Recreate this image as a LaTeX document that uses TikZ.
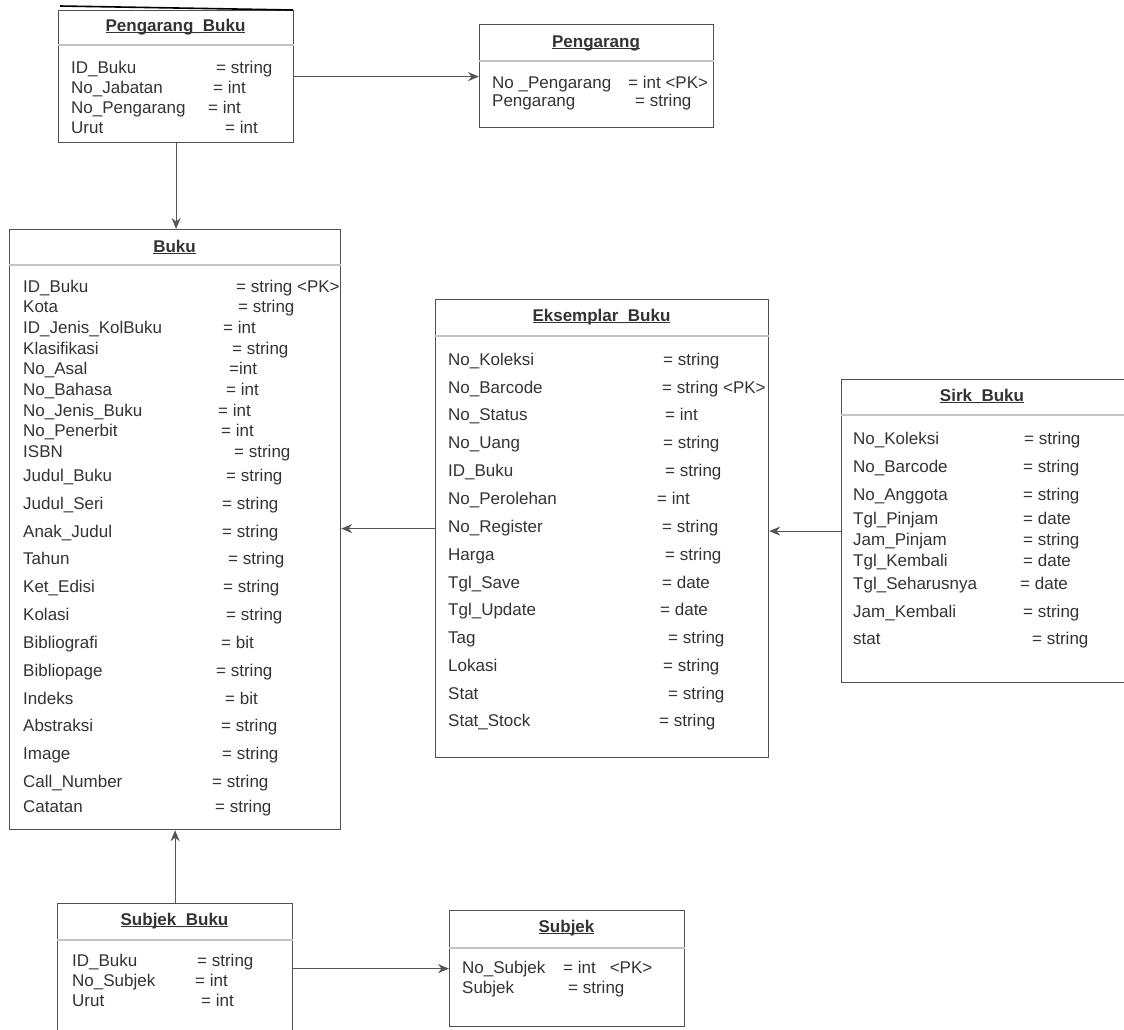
\documentclass[tikz,border=0pt]{standalone}
\usepackage{fontspec}
\setmainfont{Liberation Sans}
\usetikzlibrary{arrows.meta}

\definecolor{boxline}{HTML}{505050}
\definecolor{sepline}{HTML}{C4C4C4}
\definecolor{ink}{HTML}{333333}
\definecolor{linkline}{HTML}{555555}

% underlined entity title
\newcommand\entitle[1]{\setbox0\hbox{#1}\rlap{\rule[-2pt]{\wd0}{1pt}}\box0}

\tikzset{
  ent/.style={draw=boxline, line width=1.2pt, fill=white, rectangle, inner sep=0pt, anchor=north west},
  sepr/.style={draw=sepline, line width=1.1pt},
  txt/.style={anchor=base west, inner sep=0pt, text=ink, font=\fontsize{17}{20}\selectfont},
  ttl/.style={anchor=base, inner sep=0pt, text=ink, font=\fontsize{17}{20}\selectfont\bfseries},
  link/.style={draw=linkline, line width=1.2pt, -{Stealth[length=11pt,width=9pt]}}
}

\begin{document}
\begin{tikzpicture}[x=1pt,y=-1pt]
\useasboundingbox (0,0) rectangle (1124,1029);
\fill[white] (0,0) rectangle (1124,1029);

% ---------- entity boxes ----------
\node[ent, minimum width=235pt, minimum height=132pt] (pb) at (58,10) {};
\node[ent, minimum width=234pt, minimum height=103pt] (pg) at (479,24) {};
\node[ent, minimum width=331pt, minimum height=600pt] (bk) at (9,229) {};
\node[ent, minimum width=333pt, minimum height=458pt] (ek) at (435,299) {};
\node[ent, minimum width=300pt, minimum height=303pt] (sk) at (841,379) {};
\node[ent, minimum width=235pt, minimum height=130pt] (sb) at (57,903) {};
\node[ent, minimum width=235pt, minimum height=116pt] (sj) at (449,910) {};

% heavy rule over Pengarang_Buku
\draw[black, line width=1.6pt] (60,6) -- (293,10);

% header separators
\draw[sepr] (pb.west |- 0,45) -- (pb.east |- 0,45);
\draw[sepr] (pg.west |- 0,61) -- (pg.east |- 0,61);
\draw[sepr] (bk.west |- 0,265) -- (bk.east |- 0,265);
\draw[sepr] (ek.west |- 0,336) -- (ek.east |- 0,336);
\draw[sepr] (sk.west |- 0,415) -- (sk.east |- 0,415);
\draw[sepr] (sb.west |- 0,940) -- (sb.east |- 0,940);
\draw[sepr] (sj.west |- 0,948) -- (sj.east |- 0,948);

% ---------- titles ----------
\node[ttl] (pb-t) at (175.5,31) {\entitle{Pengarang\_Buku}};
\node[ttl] (pg-t) at (596,47) {\entitle{Pengarang}};
\node[ttl] (bk-t) at (174.5,252) {\entitle{Buku}};
\node[ttl] (ek-t) at (601.5,321) {\entitle{Eksemplar\_Buku}};
\node[ttl] (sk-t) at (982,401) {\entitle{Sirk\_Buku}};
\node[ttl] (sb-t) at (174.5,925) {\entitle{Subjek\_Buku}};
\node[ttl] (sj-t) at (566.5,932) {\entitle{Subjek}};

% ---------- attributes ----------
\foreach \y/\n/\x/\v [count=\i] in {
  67/ID\_Buku/216/= string,
  87/No\_Jabatan/213/= int,
  107/No\_Pengarang/208/= int,
  127/Urut/225/= int}
{ \node[txt] (pb-n\i) at (71,\y+6) {\n}; \node[txt] (pb-v\i) at (\x,\y+6) {\v}; }

\foreach \y/\n/\x/\v [count=\i] in {
  82/No \_Pengarang/628/= int <PK>,
  100/Pengarang/635/= string}
{ \node[txt] (pg-n\i) at (492,\y+6) {\n}; \node[txt] (pg-v\i) at (\x,\y+6) {\v}; }

\foreach \y/\n/\x/\v [count=\i] in {
  286/ID\_Buku/236/= string <PK>,
  306/Kota/238/= string,
  327/ID\_Jenis\_KolBuku/223/= int,
  348/Klasifikasi/232/= string,
  368/No\_Asal/229/=int,
  389/No\_Bahasa/226/= int,
  410/No\_Jenis\_Buku/218/= int,
  430/No\_Penerbit/221/= int,
  451/ISBN/234/= string,
  475/Judul\_Buku/226/= string,
  503/Judul\_Seri/222/= string,
  531/Anak\_Judul/222/= string,
  558/Tahun/228/= string,
  586/Ket\_Edisi/223/= string,
  614/Kolasi/226/= string,
  642/Bibliografi/221/= bit,
  670/Bibliopage/216/= string,
  698/Indeks/225/= bit,
  725/Abstraksi/221/= string,
  753/Image/222/= string,
  781/Call\_Number/212/= string,
  806/Catatan/215/= string}
{ \node[txt] (bk-n\i) at (23,\y+6) {\n}; \node[txt] (bk-v\i) at (\x,\y+6) {\v}; }

\foreach \y/\n/\x/\v [count=\i] in {
  359/No\_Koleksi/663/= string,
  387/No\_Barcode/662/= string <PK>,
  414/No\_Status/665/= int,
  442/No\_Uang/663/= string,
  470/ID\_Buku/665/= string,
  498/No\_Perolehan/657/= int,
  526/No\_Register/662/= string,
  554/Harga/665/= string,
  582/Tgl\_Save/662/= date,
  609/Tgl\_Update/660/= date,
  637/Tag/668/= string,
  665/Lokasi/663/= string,
  693/Stat/668/= string,
  720/Stat\_Stock/659/= string}
{ \node[txt] (ek-n\i) at (448,\y+6) {\n}; \node[txt] (ek-v\i) at (\x,\y+6) {\v}; }

\foreach \y/\n/\x/\v [count=\i] in {
  438/No\_Koleksi/1024/= string,
  466/No\_Barcode/1023/= string,
  494/No\_Anggota/1023/= string,
  518/Tgl\_Pinjam/1023/= date,
  539/Jam\_Pinjam/1023/= string,
  560/Tgl\_Kembali/1023/= date,
  583/Tgl\_Seharusnya/1020/= date,
  611/Jam\_Kembali/1023/= string,
  638/stat/1032/= string}
{ \node[txt] (sk-n\i) at (853,\y+6) {\n}; \node[txt] (sk-v\i) at (\x,\y+6) {\v}; }

\foreach \y/\n/\x/\v [count=\i] in {
  960/ID\_Buku/197/= string,
  980/No\_Subjek/195/= int,
  1000/Urut/201/= int}
{ \node[txt] (sb-n\i) at (72,\y+6) {\n}; \node[txt] (sb-v\i) at (\x,\y+6) {\v}; }

\foreach \y/\n/\x/\v [count=\i] in {
  967/No\_Subjek/563/= int\hspace{14pt}<PK>,
  987/Subjek/568/= string}
{ \node[txt] (sj-n\i) at (462,\y+6) {\n}; \node[txt] (sj-v\i) at (\x,\y+6) {\v}; }

% ---------- relationships ----------
\draw[link] (pb.east) -- (pb.east -| pg.west);
\draw[link] (pb.south) -- (pb.south |- bk.north);
\draw[link] (ek.west) -- (ek.west -| bk.east);
\draw[link] (sk.west) -- (sk.west -| ek.east);
\draw[link] (sb.north) -- (sb.north |- bk.south);
\draw[link] (sb.east) -- (sb.east -| sj.west);
\end{tikzpicture}
\end{document}
